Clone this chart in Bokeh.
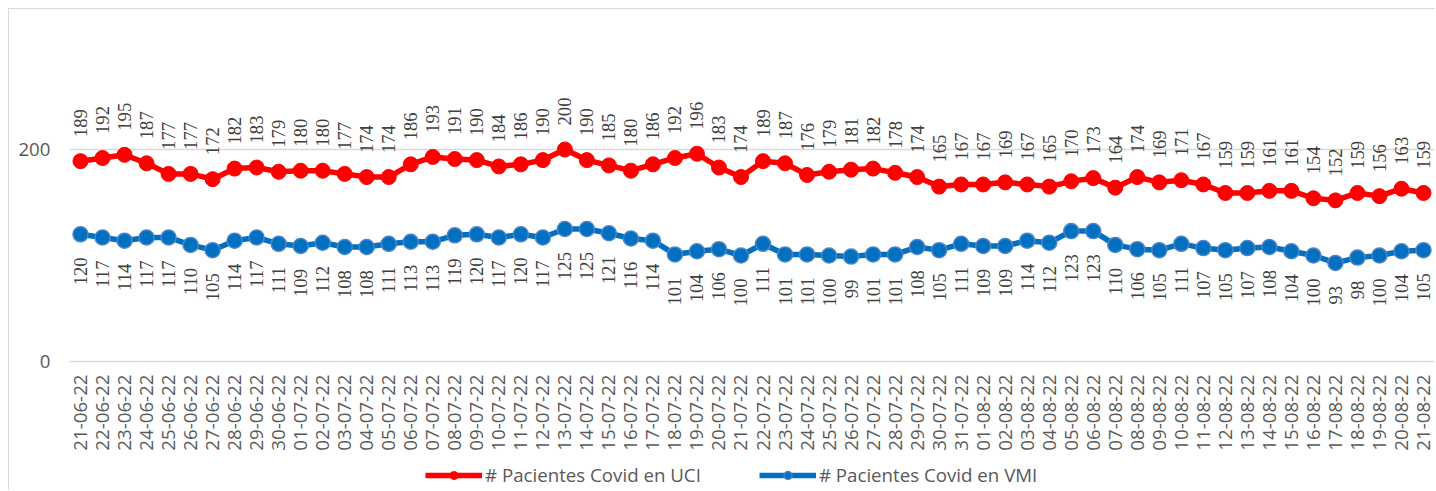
import math
from bokeh.plotting import figure
from bokeh.models import (ColumnDataSource, FactorRange, Range1d, FixedTicker,
                          LabelSet, Legend, LegendItem)
from bokeh.embed import file_html
from bokeh.resources import INLINE

dates = [
    "21-06-22", "22-06-22", "23-06-22", "24-06-22", "25-06-22", "26-06-22", "27-06-22",
    "28-06-22", "29-06-22", "30-06-22", "01-07-22", "02-07-22", "03-07-22", "04-07-22",
    "05-07-22", "06-07-22", "07-07-22", "08-07-22", "09-07-22", "10-07-22", "11-07-22",
    "12-07-22", "13-07-22", "14-07-22", "15-07-22", "16-07-22", "17-07-22", "18-07-22",
    "19-07-22", "20-07-22", "21-07-22", "22-07-22", "23-07-22", "24-07-22", "25-07-22",
    "26-07-22", "27-07-22", "28-07-22", "29-07-22", "30-07-22", "31-07-22", "01-08-22",
    "02-08-22", "03-08-22", "04-08-22", "05-08-22", "06-08-22", "07-08-22", "08-08-22",
    "09-08-22", "10-08-22", "11-08-22", "12-08-22", "13-08-22", "14-08-22", "15-08-22",
    "16-08-22", "17-08-22", "18-08-22", "19-08-22", "20-08-22", "21-08-22",
]

uci = [189, 192, 195, 187, 177, 177, 172, 182, 183, 179, 180, 180, 177, 174, 174, 186,
       193, 191, 190, 184, 186, 190, 200, 190, 185, 180, 186, 192, 196, 183, 174, 189,
       187, 176, 179, 181, 182, 178, 174, 165, 167, 167, 169, 167, 165, 170, 173, 164,
       174, 169, 171, 167, 159, 159, 161, 161, 154, 152, 159, 156, 163, 159]

vmi = [120, 117, 114, 117, 117, 110, 105, 114, 117, 111, 109, 112, 108, 108, 111, 113,
       113, 119, 120, 117, 120, 117, 125, 125, 121, 116, 114, 101, 104, 106, 100, 111,
       101, 101, 100, 99, 101, 101, 108, 105, 111, 109, 109, 114, 112, 123, 123, 110,
       106, 105, 111, 107, 105, 107, 108, 104, 100, 93, 98, 100, 104, 105]

y_ticks = [0, 200]

label_uci = "# Pacientes Covid en UCI"
label_vmi = "# Pacientes Covid en VMI"

RED = "#FF0000"
BLUE = "#0070C0"
BLUE_EDGE = "#4F81C8"
AXIS_TXT = "#595959"
LBL_TXT = "#404040"
FONT = "Open Sans"
FS = "18.7px"

src = ColumnDataSource(dict(
    d=dates, uci=uci, vmi=vmi,
    uci_s=[str(v) for v in uci], vmi_s=[str(v) for v in vmi],
))

# frame spans from the top margin down to the figure bottom; the x axis sits at y=0
p = figure(width=1427, height=482, x_range=FactorRange(*dates), y_range=Range1d(-122.64, 300),
           output_backend="svg", toolbar_location=None,
           min_border_left=60, min_border_right=2, min_border_top=34, min_border_bottom=0)
p.styles = {"margin-left": "8px", "margin-top": "8px",
            "border-top": "1px solid #D9D9D9", "border-left": "1px solid #D9D9D9"}
p.outline_line_color = None
p.background_fill_color = "white"
p.border_fill_color = "white"

l1 = p.line("d", "uci", source=src, line_color=RED, line_width=5.5)
s1 = p.scatter("d", "uci", source=src, size=15, fill_color=RED, line_color=RED, line_width=1)
l2 = p.line("d", "vmi", source=src, line_color=BLUE, line_width=5.5)
s2 = p.scatter("d", "vmi", source=src, size=15, fill_color=BLUE, line_color=BLUE_EDGE, line_width=1.5)

lab1 = LabelSet(x="d", y="uci", text="uci_s", source=src, angle=math.pi / 2,
                text_align="left", text_baseline="middle", y_offset=24,
                text_font_size=FS, text_color=LBL_TXT, text_font=FONT)
lab2 = LabelSet(x="d", y="vmi", text="vmi_s", source=src, angle=math.pi / 2,
                text_align="right", text_baseline="middle", y_offset=-23,
                text_font_size=FS, text_color=LBL_TXT, text_font=FONT)
p.add_layout(lab1)
p.add_layout(lab2)

# axes
p.xgrid.grid_line_color = None
p.ygrid.grid_line_color = "#D9D9D9"
p.ygrid.grid_line_width = 1.5
p.yaxis.ticker = FixedTicker(ticks=y_ticks)
p.ygrid.ticker = FixedTicker(ticks=y_ticks)
for ax in (p.xaxis[0], p.yaxis[0]):
    ax.axis_line_color = None
    ax.major_tick_line_color = None
    ax.minor_tick_line_color = None
    ax.major_tick_in = 0
    ax.major_tick_out = 0
    ax.major_label_text_font = FONT
    ax.major_label_text_font_size = FS
    ax.major_label_text_color = AXIS_TXT
p.yaxis.major_label_standoff = 19
p.xaxis.major_label_standoff = 13
p.xaxis.major_label_orientation = math.pi / 2
p.xaxis.fixed_location = 0

legend = Legend(items=[LegendItem(label=label_uci, renderers=[l1, s1]),
                       LegendItem(label=label_vmi, renderers=[l2, s2])],
                orientation="horizontal", location=(356, 4),
                padding=0, margin=0, spacing=58, glyph_width=57, glyph_height=20,
                label_standoff=3, label_height=20,
                label_text_font=FONT, label_text_font_size=FS,
                label_text_color=AXIS_TXT,
                background_fill_alpha=0, border_line_color=None)
p.add_layout(legend, "center")

open("out.html", "w").write(file_html(p, INLINE))
